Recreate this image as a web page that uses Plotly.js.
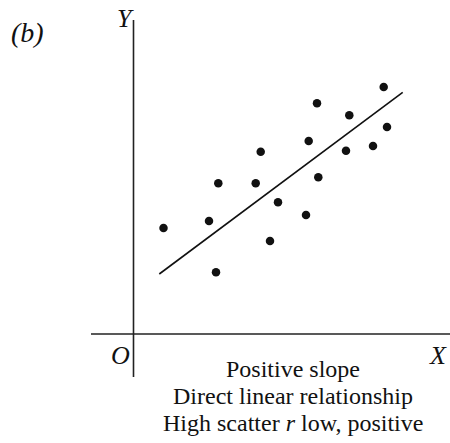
<!DOCTYPE html>
<html>
<head>
<meta charset="utf-8">
<script src="https://cdn.plot.ly/plotly-3.0.1.min.js"></script>
<style>html,body{margin:0;padding:0;background:#fff;}#chart{width:450px;height:443px;}</style>
</head>
<body>
<div id="chart"></div>
<script>
// Scatter values (origin O at 0,0)
const pointX = [3.0, 7.55, 8.25, 8.48, 12.22, 12.72, 13.65, 14.45, 17.25, 17.52, 18.35, 18.48, 21.25, 21.58, 23.95, 25.02, 25.35];
const pointY = [10.6, 11.3, 6.17, 15.07, 15.07, 18.23, 9.3, 13.17, 11.9, 19.3, 23.07, 15.67, 18.33, 21.87, 18.8, 24.7, 20.7];
// Fitted line end points
const lineX = [2.58, 26.92];
const lineY = [6.0, 24.17];
// Axis extents
const yAxisX = [0, 0];
const yAxisY = [31.4, -4.3];
const xAxisX = [-4.25, 31.65];
const xAxisY = [0, 0];
// Caption lines
const captions = ["Positive slope", "Direct linear relationship", "High scatter <i>r</i> low, positive"];
const captionY = [-3.5, -6.2, -8.9];

const serif = "Liberation Serif, Times New Roman, serif";
const traces = [
  {x: yAxisX, y: yAxisY, mode: "lines", line: {color: "#222", width: 1.6}, hoverinfo: "skip"},
  {x: xAxisX, y: xAxisY, mode: "lines", line: {color: "#222", width: 1.6}, hoverinfo: "skip"},
  {x: lineX, y: lineY, mode: "lines", line: {color: "#111", width: 1.6}, hoverinfo: "skip"},
  {x: pointX, y: pointY, mode: "markers", marker: {color: "#111", size: 8.5}, hoverinfo: "skip"}
];

const annotations = [
  {x: -10.65, y: 30.2, text: "<i>(b)</i>", size: 28},
  {x: -0.85, y: 31.6, text: "<i>Y</i>", size: 26},
  {x: -1.35, y: -2.1, text: "<i>O</i>", size: 26},
  {x: 30.45, y: -2.1, text: "<i>X</i>", size: 26}
].map(a => ({x: a.x, y: a.y, xref: "x", yref: "y", text: a.text, showarrow: false,
  xanchor: "center", yanchor: "middle", font: {family: serif, size: a.size, color: "#111"}}));

captions.forEach((t, i) => annotations.push({
  x: 15.95, y: captionY[i], xref: "x", yref: "y", text: t, showarrow: false,
  borderpad: 0,
  xanchor: "center", yanchor: "middle", font: {family: serif, size: 24, color: "#111"}
}));

const layout = {
  width: 450, height: 443,
  margin: {l: 0, r: 0, t: 0, b: 0},
  paper_bgcolor: "#fff", plot_bgcolor: "#fff",
  showlegend: false,
  xaxis: {range: [-13.35, 31.65], visible: false, fixedrange: true},
  yaxis: {range: [-10.9, 33.4], visible: false, fixedrange: true},
  annotations: annotations
};
Plotly.newPlot("chart", traces, layout, {staticPlot: true, displayModeBar: false});
</script>
</body>
</html>
